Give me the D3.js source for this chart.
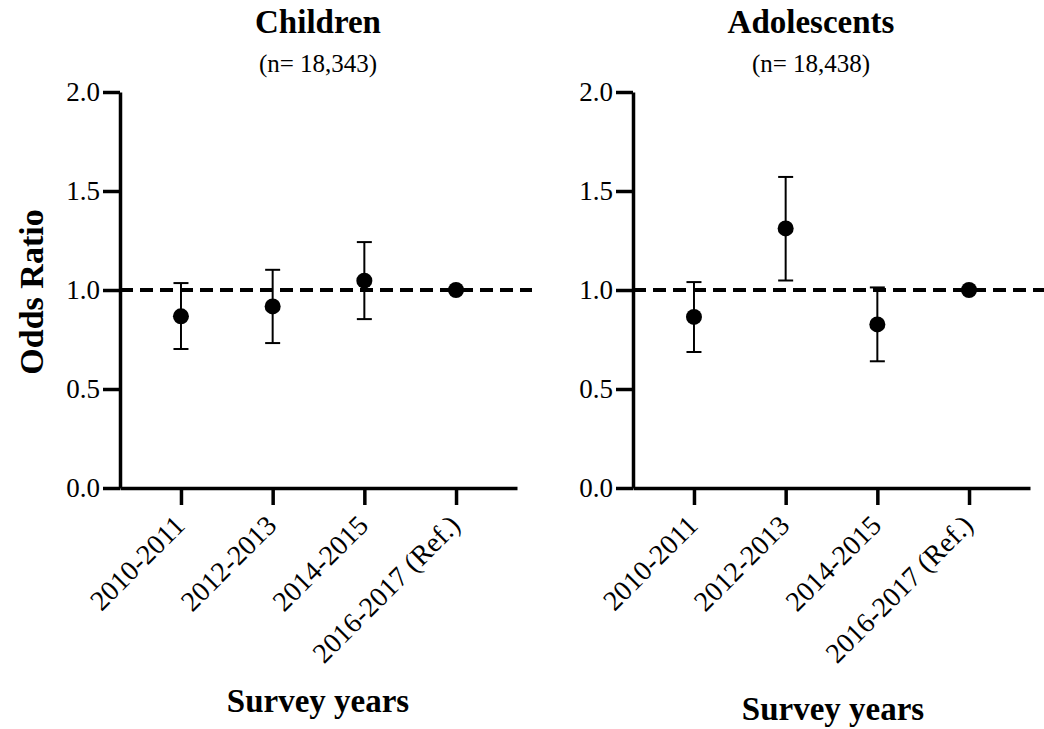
<!DOCTYPE html>
<html>
<head>
<meta charset="utf-8">
<script src="https://cdn.jsdelivr.net/npm/d3@7"></script>
<style>
    body { margin: 0; background: #fff; }
    svg { display: block; }
    text { font-family: "Liberation Serif", "Times New Roman", serif; fill: #000; }
    .axis path, .axis line { stroke: #000; stroke-width: 3.5; }
    .axis text { font-size: 27px; }
    .axis .xlab { font-size: 28px; }
</style>
</head>
<body>
<svg id="chart"></svg>
<script>
// Data
const surveyYears = ["2010-2011", "2012-2013", "2014-2015", "2016-2017 (Ref.)"];
const yTicks = [0, 0.5, 1.0, 1.5, 2.0];

const childrenOR = [0.867, 0.917, 1.047, 1.0];
const childrenLower = [0.702, 0.732, 0.853, null];
const childrenUpper = [1.035, 1.102, 1.242, null];

const adolescentsOR = [0.864, 1.311, 0.826, 1.0];
const adolescentsLower = [0.687, 1.048, 0.640, null];
const adolescentsUpper = [1.040, 1.571, 1.013, null];

let config = {
    'svg': { width: 1044, height: 729 },
    'plot': { top: 92, bottom: 488, width: 397 }
};

let svg = d3.select("#chart")
    .attr("width", config.svg.width)
    .attr("height", config.svg.height);

/**
 * Draws one panel (axes, reference line, points with error bars)
 */
let drawPanel = function(opts) {
    let left = opts.left;
    let right = left + config.plot.width;

    let x = d3.scalePoint()
        .domain(surveyYears)
        .range([left, right])
        .padding(0.665);

    let y = d3.scaleLinear()
        .domain([0, 2])
        .range([config.plot.bottom, config.plot.top]);

    let rows = surveyYears.map((year, i) => ({
        year: year,
        or: opts.or[i],
        lo: opts.lower[i],
        hi: opts.upper[i]
    }));

    // y axis
    let yAxis = d3.axisLeft(y)
        .tickValues(yTicks)
        .tickFormat(d3.format(".1f"))
        .tickSize(17)
        .tickSizeOuter(0)
        .tickPadding(3);
    svg.append("g")
        .attr("class", "axis")
        .attr("transform", translate(left, 0))
        .call(yAxis);

    // x axis
    let xAxis = d3.axisBottom(x)
        .tickSize(17)
        .tickSizeOuter(0)
        .tickFormat("");
    let xg = svg.append("g")
        .attr("class", "axis")
        .attr("transform", translate(0, config.plot.bottom))
        .call(xAxis);

    // rotated category labels
    xg.selectAll(".tick")
        .append("text")
        .attr("class", "xlab")
        .attr("text-anchor", "end")
        .attr("transform", "translate(5,39) rotate(-45)")
        .text(d => d);

    // reference line at OR = 1
    svg.append("line")
        .attr("x1", left)
        .attr("x2", Math.min(right + 15, config.svg.width))
        .attr("y1", y(1))
        .attr("y2", y(1))
        .style("stroke", "#000")
        .style("stroke-width", 4)
        .style("stroke-dasharray", "13,7");

    // error bars
    let bars = rows.filter(d => d.lo !== null);
    let eb = svg.append("g")
        .style("stroke", "#000")
        .style("stroke-width", 2);
    eb.selectAll(".stem")
        .data(bars)
        .enter()
        .append("line")
        .attr("x1", d => x(d.year))
        .attr("x2", d => x(d.year))
        .attr("y1", d => y(d.lo))
        .attr("y2", d => y(d.hi));
    eb.selectAll(".capHi")
        .data(bars)
        .enter()
        .append("line")
        .attr("x1", d => x(d.year) - 7.5)
        .attr("x2", d => x(d.year) + 7.5)
        .attr("y1", d => y(d.hi))
        .attr("y2", d => y(d.hi));
    eb.selectAll(".capLo")
        .data(bars)
        .enter()
        .append("line")
        .attr("x1", d => x(d.year) - 7.5)
        .attr("x2", d => x(d.year) + 7.5)
        .attr("y1", d => y(d.lo))
        .attr("y2", d => y(d.lo));

    // points
    svg.append("g")
        .selectAll("circle")
        .data(rows)
        .enter()
        .append("circle")
        .attr("cx", d => x(d.year))
        .attr("cy", d => y(d.or))
        .attr("r", 8)
        .style("fill", "#000");

    // titles
    svg.append("text")
        .attr("x", opts.titleX)
        .attr("y", 33)
        .attr("text-anchor", "middle")
        .style("font-size", "33px")
        .style("font-weight", "bold")
        .text(opts.title);
    svg.append("text")
        .attr("x", opts.titleX)
        .attr("y", 72)
        .attr("text-anchor", "middle")
        .style("font-size", "25px")
        .text(opts.subtitle);

    // x axis title
    svg.append("text")
        .attr("x", opts.xTitleX)
        .attr("y", opts.xTitleY)
        .attr("text-anchor", "middle")
        .style("font-size", "33px")
        .style("font-weight", "bold")
        .text("Survey years");
};

function translate(x, y) {
    return 'translate(' + x + ',' + y + ')';
}

drawPanel({
    left: 120,
    or: childrenOR, lower: childrenLower, upper: childrenUpper,
    title: "Children", subtitle: "(n= 18,343)", titleX: 318,
    xTitleX: 318, xTitleY: 712
});

drawPanel({
    left: 633,
    or: adolescentsOR, lower: adolescentsLower, upper: adolescentsUpper,
    title: "Adolescents", subtitle: "(n= 18,438)", titleX: 811,
    xTitleX: 833, xTitleY: 720
});

// shared y axis title
svg.append("text")
    .attr("transform", "translate(43,292) rotate(-90)")
    .attr("text-anchor", "middle")
    .style("font-size", "34px")
    .style("font-weight", "bold")
    .text("Odds Ratio");
</script>
</body>
</html>
